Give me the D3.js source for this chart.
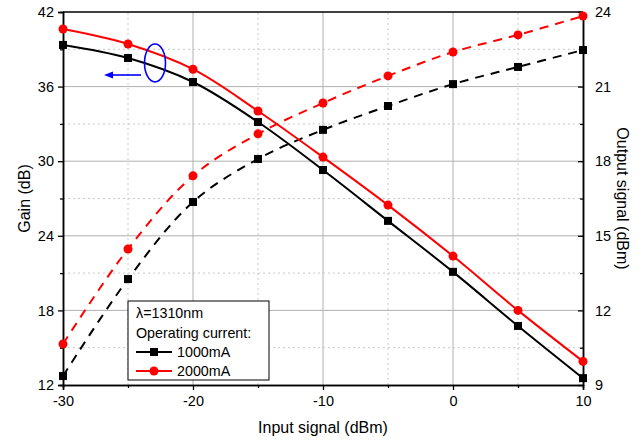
<!DOCTYPE html>
<html>
<head>
<meta charset="utf-8">
<script src="https://cdn.jsdelivr.net/npm/d3@7"></script>
<style>
  body { margin: 0; background: #fff; }
  text { font-family: "Liberation Sans", Arial, sans-serif; }
</style>
</head>
<body>
<div id="viz"></div>
<script>
// Input signal levels (dBm)
const INPUT = [-30, -25, -20, -15, -10, -5, 0, 5, 10];
// Gain (dB), left axis
const GAIN_1000 = [39.35, 38.3, 36.37, 33.15, 29.29, 25.2, 21.1, 16.75, 12.55];
const GAIN_2000 = [40.63, 39.43, 37.4, 34.04, 30.33, 26.47, 22.37, 18.0, 13.9];
// Output signal (dBm), right axis
const OUT_1000 = [9.36, 13.26, 16.36, 18.09, 19.26, 20.22, 21.1, 21.79, 22.47];
const OUT_2000 = [10.65, 14.47, 17.41, 19.1, 20.34, 21.43, 22.39, 23.08, 23.84];

const X_TICKS = [-30, -20, -10, 0, 10];
const GAIN_TICKS = [12, 18, 24, 30, 36, 42];
const OUT_TICKS = [9, 12, 15, 18, 21, 24];

const W = 644, H = 440;
const m = { left: 63, right: 61, top: 12, bottom: 55 };

const svg = d3.select("#viz").append("svg")
  .attr("width", W).attr("height", H);

const x = d3.scaleLinear().domain([-30, 10]).range([m.left, W - m.right]);
const yL = d3.scaleLinear().domain([12, 42]).range([H - m.bottom, m.top]);
const yR = d3.scaleLinear().domain([9, 24]).range([H - m.bottom, m.top]);

const x0 = m.left, x1 = W - m.right, y0 = H - m.bottom, y1 = m.top;

// grid
const grid = svg.append("g");
d3.range(-25, 10, 10).forEach(v => {
  grid.append("line").attr("x1", x(v)).attr("x2", x(v)).attr("y1", y0).attr("y2", y1)
    .attr("stroke", "#c8c8c8").attr("stroke-dasharray", "2,3");
});
[-20, -10, 0].forEach(v => {
  grid.append("line").attr("x1", x(v)).attr("x2", x(v)).attr("y1", y0).attr("y2", y1)
    .attr("stroke", "#b0b0b0");
});
d3.range(15, 42, 6).forEach(v => {
  grid.append("line").attr("y1", yL(v)).attr("y2", yL(v)).attr("x1", x0).attr("x2", x1)
    .attr("stroke", "#c8c8c8").attr("stroke-dasharray", "2,3");
});
[18, 24, 30, 36].forEach(v => {
  grid.append("line").attr("y1", yL(v)).attr("y2", yL(v)).attr("x1", x0).attr("x2", x1)
    .attr("stroke", "#b0b0b0");
});

// axes (plain hyphen for negatives, as in the original)
const fmt = d => String(d);
svg.append("g").attr("transform", `translate(0,${y0})`)
  .call(d3.axisBottom(x).tickValues(X_TICKS).tickFormat(fmt).tickSize(5).tickPadding(6));
svg.append("g").attr("transform", `translate(0,${y0})`)
  .call(d3.axisBottom(x).tickValues(d3.range(-25, 10, 10)).tickFormat("").tickSize(3));

svg.append("g").attr("transform", `translate(${x0},0)`)
  .call(d3.axisLeft(yL).tickValues(GAIN_TICKS).tickFormat(fmt).tickSize(5).tickPadding(4));
svg.append("g").attr("transform", `translate(${x0},0)`)
  .call(d3.axisLeft(yL).tickValues(d3.range(15, 42, 6)).tickFormat("").tickSize(3));

svg.append("g").attr("transform", `translate(${x1},0)`)
  .call(d3.axisRight(yR).tickValues(OUT_TICKS).tickFormat(fmt).tickSizeInner(-5).tickSizeOuter(0).tickPadding(12));
svg.append("g").attr("transform", `translate(${x1},0)`)
  .call(d3.axisRight(yR).tickValues(d3.range(10.5, 24, 3)).tickFormat("").tickSizeInner(-3).tickSizeOuter(0));

svg.selectAll(".tick text").attr("font-size", 14.5).attr("fill", "#000")
  .style("font-family", "'Liberation Sans', Arial, sans-serif");
svg.selectAll(".domain").attr("stroke", "#000").attr("stroke-width", 1.5);
svg.selectAll(".tick line").attr("stroke", "#000").attr("stroke-width", 1.3);

// top frame
svg.append("line").attr("x1", x0).attr("x2", x1).attr("y1", y1).attr("y2", y1)
  .attr("stroke", "#000").attr("stroke-width", 1.5);

// axis titles
svg.append("text").attr("x", (x0 + x1) / 2).attr("y", 433).attr("text-anchor", "middle")
  .attr("font-size", 16).text("Input signal (dBm)");
svg.append("text").attr("transform", `translate(30,${(y0 + y1) / 2}) rotate(-90)`)
  .attr("text-anchor", "middle").attr("font-size", 16).text("Gain (dB)");
svg.append("text").attr("transform", `translate(617,${(y0 + y1) / 2}) rotate(90)`)
  .attr("text-anchor", "middle").attr("font-size", 16).text("Output signal (dBm)");

// series
const series = [
  { vals: OUT_1000, y: yR, color: "#000", dash: "9,7", marker: "square" },
  { vals: OUT_2000, y: yR, color: "#ff0000", dash: "9,7", marker: "circle" },
  { vals: GAIN_1000, y: yL, color: "#000", dash: null, marker: "square" },
  { vals: GAIN_2000, y: yL, color: "#ff0000", dash: null, marker: "circle" }
];

const plot = svg.append("g");
series.forEach(s => {
  const pts = INPUT.map((v, i) => [v, s.vals[i]]);
  const line = d3.line().x(d => x(d[0])).y(d => s.y(d[1])).curve(d3.curveCatmullRom);
  plot.append("path").attr("d", line(pts)).attr("fill", "none")
    .attr("stroke", s.color).attr("stroke-width", 2)
    .attr("stroke-dasharray", s.dash);
  pts.forEach(d => {
    if (s.marker === "square") {
      plot.append("rect").attr("x", x(d[0]) - 4).attr("y", s.y(d[1]) - 4)
        .attr("width", 8).attr("height", 8).attr("fill", s.color);
    } else {
      plot.append("circle").attr("cx", x(d[0])).attr("cy", s.y(d[1])).attr("r", 4.5)
        .attr("fill", s.color);
    }
  });
});

// annotation: ellipse and arrow pointing to the left axis
svg.append("ellipse").attr("cx", 155).attr("cy", 63).attr("rx", 10.5).attr("ry", 19)
  .attr("fill", "none").attr("stroke", "#0000ff").attr("stroke-width", 1.6);
svg.append("line").attr("x1", 141).attr("x2", 112).attr("y1", 75).attr("y2", 75)
  .attr("stroke", "#0000ff").attr("stroke-width", 1.6);
svg.append("path").attr("d", "M104,75 L113,71.5 L113,78.5 Z").attr("fill", "#0000ff");

// legend
const lg = svg.append("g").attr("transform", "translate(128,301)");
lg.append("rect").attr("width", 141).attr("height", 79).attr("fill", "#fff")
  .attr("stroke", "#000").attr("stroke-width", 1);
lg.append("text").attr("x", 8).attr("y", 17).attr("font-size", 14.3).text("λ=1310nm");
lg.append("text").attr("x", 8).attr("y", 37).attr("font-size", 14.3).text("Operating current:");
[{ label: "1000mA", color: "#000", marker: "square" },
 { label: "2000mA", color: "#ff0000", marker: "circle" }].forEach((d, i) => {
  const yy = 51 + i * 19;
  lg.append("line").attr("x1", 8).attr("x2", 44).attr("y1", yy).attr("y2", yy)
    .attr("stroke", d.color).attr("stroke-width", 2);
  if (d.marker === "square") {
    lg.append("rect").attr("x", 22).attr("y", yy - 4).attr("width", 8).attr("height", 8).attr("fill", d.color);
  } else {
    lg.append("circle").attr("cx", 26).attr("cy", yy).attr("r", 4.5).attr("fill", d.color);
  }
  lg.append("text").attr("x", 49).attr("y", yy + 5).attr("font-size", 14.3).text(d.label);
});
</script>
</body>
</html>
